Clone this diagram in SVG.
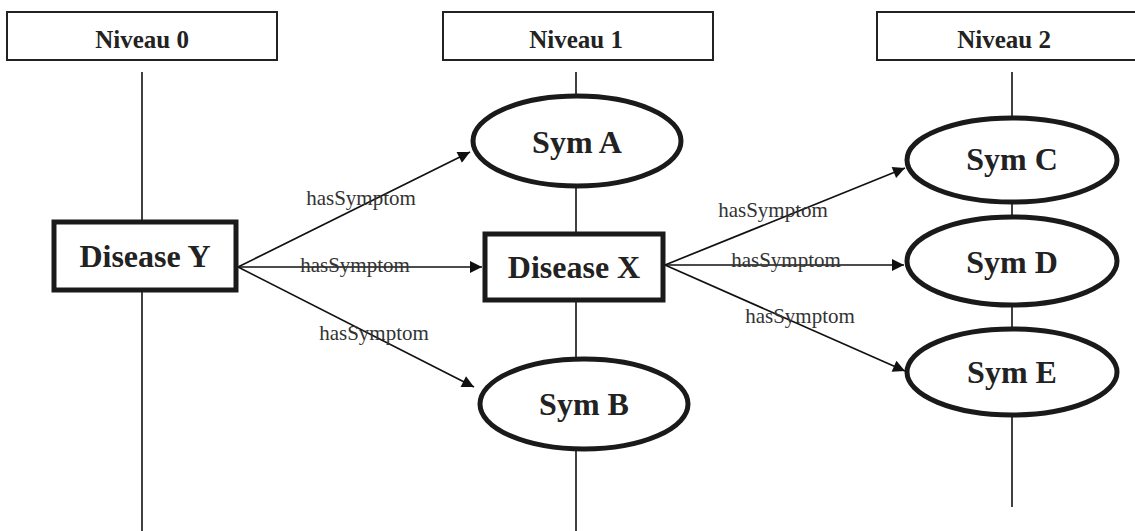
<svg xmlns="http://www.w3.org/2000/svg" width="1135" height="531" viewBox="0 0 1135 531">
<defs>
<style>
.hdr{fill:#fff;stroke:#222;stroke-width:2}
.ht{font-family:"Liberation Serif",serif;font-weight:bold;font-size:25px;fill:#222;text-anchor:middle}
.life{stroke:#111;stroke-width:1.6;fill:none}
.box{fill:#fff;stroke:#1a1a1a;stroke-width:5}
.ell{fill:#fff;stroke:#1a1a1a;stroke-width:5}
.nt{font-family:"Liberation Serif",serif;font-weight:bold;font-size:32px;fill:#222;text-anchor:middle}
.edge{stroke:#111;stroke-width:1.7;fill:none;marker-end:url(#ah)}
.lbl{font-family:"Liberation Serif",serif;font-size:21px;fill:#333;text-anchor:middle}
</style>
<marker id="ah" viewBox="0 0 10 10" refX="10" refY="5" markerWidth="16" markerHeight="12" markerUnits="userSpaceOnUse" orient="auto"><path d="M0,0 L10,5 L0,10 z" fill="#111"/></marker>
</defs>
<g id="lifelines">
<line class="life" x1="142" y1="72" x2="142" y2="531"/>
<line class="life" x1="576" y1="72" x2="576" y2="531"/>
<line class="life" x1="1012" y1="72" x2="1012" y2="507"/>
</g>
<g id="niveau0"><rect class="hdr" x="7" y="12" width="270" height="48"/><text class="ht" x="142" y="48">Niveau 0</text></g>
<g id="niveau1"><rect class="hdr" x="443" y="12" width="270" height="48"/><text class="ht" x="576" y="48">Niveau 1</text></g>
<g id="niveau2"><rect class="hdr" x="877" y="12" width="270" height="48"/><text class="ht" x="1004" y="48">Niveau 2</text></g>
<g id="connectors">
<line class="edge" x1="238" y1="267" x2="470" y2="152"/>
<line class="edge" x1="238" y1="267" x2="482" y2="267"/>
<line class="edge" x1="238" y1="267" x2="474" y2="387"/>
<line class="edge" x1="665" y1="265" x2="905" y2="168"/>
<line class="edge" x1="665" y1="265" x2="904" y2="265"/>
<line class="edge" x1="665" y1="265" x2="905" y2="371"/>
<text class="lbl" x="361" y="205">hasSymptom</text>
<text class="lbl" x="355" y="272">hasSymptom</text>
<text class="lbl" x="374" y="340">hasSymptom</text>
<text class="lbl" x="773" y="217">hasSymptom</text>
<text class="lbl" x="786" y="267">hasSymptom</text>
<text class="lbl" x="800" y="323">hasSymptom</text>
</g>
<g id="diseaseY"><rect class="box" x="54" y="222" width="182" height="68"/><text class="nt" x="145" y="267">Disease Y</text></g>
<g id="diseaseX"><rect class="box" x="485" y="234" width="178" height="66"/><text class="nt" x="574" y="278">Disease X</text></g>
<g id="symA"><ellipse class="ell" cx="577" cy="141" rx="104" ry="45"/><text class="nt" x="577" y="153">Sym A</text></g>
<g id="symB"><ellipse class="ell" cx="584" cy="404" rx="104" ry="45"/><text class="nt" x="584" y="415">Sym B</text></g>
<g id="symC"><ellipse class="ell" cx="1012" cy="160" rx="105" ry="42"/><text class="nt" x="1012" y="170">Sym C</text></g>
<g id="symD"><ellipse class="ell" cx="1012" cy="261" rx="105" ry="44"/><text class="nt" x="1012" y="273">Sym D</text></g>
<g id="symE"><ellipse class="ell" cx="1012" cy="372" rx="105" ry="43"/><text class="nt" x="1012" y="383">Sym E</text></g>
</svg>
